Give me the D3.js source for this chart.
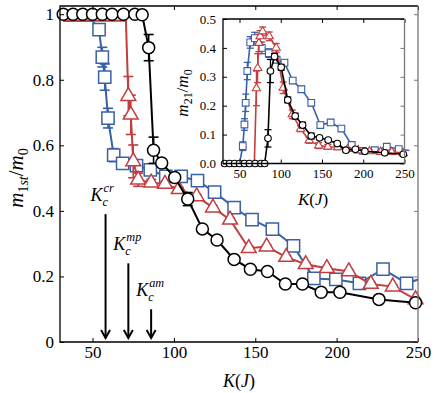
<!DOCTYPE html>
<html>
<head>
<meta charset="utf-8">
<script src="https://cdn.jsdelivr.net/npm/d3@7"></script>
<style>
body { margin: 0; background: #fff; }
svg text { font-family: "Liberation Serif", "DejaVu Serif", serif; fill: #000; }
</style>
</head>
<body>
<svg width="436" height="393"></svg>
<script>
// values (K in units of J)
var blueK   = [32, 38, 44, 50, 54, 56, 57.5, 59.5, 63, 68.5, 77, 85.5, 95, 104.5, 114.5, 125, 137, 148, 160.5, 173.5, 186, 199.5, 214, 228.5, 243, 256];
var blueM1  = [0.98, 0.98, 0.98, 0.98, 0.953, 0.869, 0.808, 0.683, 0.57, 0.545, 0.538, 0.525, 0.505, 0.505, 0.492, 0.457, 0.41, 0.373, 0.344, 0.293, 0.194, 0.191, 0.179, 0.222, 0.179, 0.2];
var blueE1  = [0, 0, 0, 0, 0.015, 0.03, 0.04, 0.03, 0.02, 0.01, 0.005, 0.005, 0.005, 0.005, 0.005, 0.01, 0.012, 0.008, 0.012, 0.015, 0.015, 0.01, 0.005, 0.008, 0.005, 0];
var blueM21 = [0, 0, 0, 0, 0.06, 0.135, 0.21, 0.32, 0.419, 0.434, 0.40, 0.382, 0.359, 0.349, 0.287, 0.257, 0.21, 0.133, 0.142, 0.121, 0.064, 0.044, 0.046, 0.058, 0.05, 0.045];
var blueE21 = [0, 0, 0, 0, 0.015, 0.02, 0.03, 0.03, 0.02, 0.02, 0.02, 0.015, 0.01, 0.01, 0.01, 0.01, 0.01, 0.01, 0.01, 0.008, 0.008, 0.005, 0.005, 0.005, 0.005, 0];

var redK   = [32, 38, 44, 50, 56, 62, 68, 70.5, 72, 73.5, 75, 78, 86, 94.5, 103, 114, 124, 134.5, 146, 157, 169, 181, 194, 207.5, 221, 234.5, 248.5];
var redM1  = [0.98, 0.98, 0.98, 0.98, 0.98, 0.98, 0.98, 0.98, 0.75, 0.693, 0.551, 0.495, 0.486, 0.482, 0.466, 0.444, 0.41, 0.373, 0.286, 0.291, 0.259, 0.237, 0.225, 0.215, 0.177, 0.169, 0.130];
var redE1  = [0, 0, 0, 0, 0, 0, 0, 0, 0.06, 0.06, 0.05, 0.02, 0.01, 0.005, 0.005, 0.005, 0.005, 0.005, 0.005, 0.005, 0.005, 0.005, 0.005, 0.005, 0.005, 0.005, 0];
var redM21 = [0, 0, 0, 0, 0, 0, 0, 0.26, 0.33, 0.417, 0.44, 0.457, 0.44, 0.40, 0.262, 0.17, 0.12, 0.08, 0.062, 0.058, 0.056, 0.05, 0.045, 0.042, 0.04, 0.04, 0.035];
var redE21 = [0, 0, 0, 0, 0, 0, 0, 0.06, 0.05, 0.03, 0.02, 0.015, 0.015, 0.015, 0.02, 0.015, 0.01, 0.01, 0.01, 0.008, 0.008, 0.005, 0.005, 0.005, 0.005, 0.005, 0];

var blackK   = [32, 38, 44, 50, 56, 62, 69, 76, 80.5, 84.5, 87.5, 92.5, 100.5, 108.5, 117.5, 126.5, 137, 147, 157.5, 168.5, 179, 190.5, 202, 226, 248.5];
var blackM1  = [1, 1, 1, 1, 1, 1, 1, 1, 0.998, 0.898, 0.585, 0.546, 0.502, 0.436, 0.345, 0.311, 0.252, 0.222, 0.215, 0.177, 0.177, 0.152, 0.152, 0.130, 0.120];
var blackE1  = [0, 0, 0, 0, 0, 0, 0, 0, 0, 0.04, 0.04, 0.01, 0.01, 0.02, 0.005, 0.005, 0, 0, 0, 0, 0, 0, 0, 0, 0];
var blackM21 = [0, 0, 0, 0, 0, 0, 0, 0, 0, 0.087, 0.32, 0.37, 0.333, 0.22, 0.164, 0.133, 0.095, 0.089, 0.081, 0.069, 0.046, 0.049, 0.042, 0.037, 0.032];
var blackE21 = [0, 0, 0, 0, 0, 0, 0, 0, 0, 0.03, 0.04, 0.01, 0.01, 0.01, 0.01, 0.01, 0.01, 0.005, 0.005, 0.005, 0.005, 0, 0, 0, 0];

var xTicks = [50, 100, 150, 200, 250];
var yTicks = [0, 0.2, 0.4, 0.6, 0.8, 1];
var insetYTicks = [0, 0.1, 0.2, 0.3, 0.4, 0.5];

// critical couplings marked by arrows
var arrowK = [58, 72, 86];
var arrowTop = [0.39, 0.24, 0.10];
var arrowSup = ["cr", "mp", "am"];

var blue = "#3a61a4", red = "#c33d3f";

var svg = d3.select("svg"),
    main = {left: 60, right: 418, top: 6, bottom: 342},
    ins = {left: 223, right: 404.5, top: 19, bottom: 163.5};

var x = d3.scaleLinear().domain([30, 250]).range([main.left, main.right]);
var y = d3.scaleLinear().domain([0, 1.025]).range([main.bottom, main.top]);
var xi = d3.scaleLinear().domain([30, 250]).range([ins.left, ins.right]);
var yi = d3.scaleLinear().domain([0, 0.5]).range([ins.bottom, ins.top]);

svg.append("defs").append("clipPath").attr("id", "clipMain").append("rect")
    .attr("x", main.left).attr("y", main.top)
    .attr("width", main.right - main.left).attr("height", main.bottom - main.top);

function frame(g, box, sx, sy, ticksX, ticksY, fs, padX, padY, fmtY) {
    g.append("g")
        .attr("transform", "translate(0," + box.bottom + ")")
        .call(d3.axisBottom(sx).tickValues(ticksX).tickSizeInner(-4).tickSizeOuter(0).tickPadding(padX))
        .call(function (a) { a.select(".domain").remove(); a.selectAll("text").attr("font-size", fs); });
    g.append("g")
        .attr("transform", "translate(" + box.left + ",0)")
        .call(d3.axisLeft(sy).tickValues(ticksY).tickSizeInner(-4).tickSizeOuter(0).tickPadding(padY).tickFormat(fmtY))
        .call(function (a) { a.select(".domain").remove(); a.selectAll("text").attr("font-size", fs); });
    g.append("g")
        .attr("transform", "translate(0," + box.top + ")")
        .call(d3.axisTop(sx).tickValues(ticksX).tickSizeInner(-4).tickSizeOuter(0).tickFormat(""))
        .call(function (a) { a.select(".domain").remove(); });
    g.append("g")
        .attr("transform", "translate(" + box.right + ",0)")
        .call(d3.axisRight(sy).tickValues(ticksY).tickSizeInner(-4).tickSizeOuter(0).tickFormat(""))
        .call(function (a) { a.select(".domain").remove(); a.selectAll("line").attr("stroke", "#777"); });
    g.append("path")
        .attr("d", "M" + box.right + "," + box.top + "H" + box.left + "V" + box.bottom + "H" + box.right)
        .attr("fill", "none").attr("stroke", "#000").attr("stroke-width", 1.3);
    g.append("line")
        .attr("x1", box.right).attr("x2", box.right).attr("y1", box.top).attr("y2", box.bottom)
        .attr("stroke", "#777").attr("stroke-width", 1.3);
}

function series(g, sx, sy, K, v, e, o) {
    var pts = K.map(function (k, i) { return {k: k, v: v[i], e: e[i]}; });
    var line = d3.line().x(function (d) { return sx(d.k); }).y(function (d) { return sy(d.v); });
    g.append("path").datum(pts)
        .attr("d", line).attr("fill", "none").attr("stroke", o.color)
        .attr("stroke-width", o.lw).attr("clip-path", o.clip || null);
    var eb = g.append("g").attr("stroke", o.color).attr("stroke-width", o.lw * 0.8);
    pts.filter(function (d) { return d.e > 0 && d.k <= 250; }).forEach(function (d) {
        var cx = sx(d.k), y0 = sy(d.v - d.e), y1 = sy(d.v + d.e);
        eb.append("line").attr("x1", cx).attr("x2", cx).attr("y1", y0).attr("y2", y1);
        eb.append("line").attr("x1", cx - o.cap).attr("x2", cx + o.cap).attr("y1", y0).attr("y2", y0);
        eb.append("line").attr("x1", cx - o.cap).attr("x2", cx + o.cap).attr("y1", y1).attr("y2", y1);
    });
    var shown = pts.filter(function (d) { return d.k <= 250 && !(o.hide && o.hide(d.v)); });
    if (o.shape === "circle") {
        g.selectAll(null).data(shown).enter().append("circle")
            .attr("cx", function (d) { return sx(d.k); })
            .attr("cy", function (d) { return sy(d.v); })
            .attr("r", o.size)
            .attr("fill", "#fff").attr("stroke", o.color).attr("stroke-width", o.mw);
    } else {
        var sym = d3.symbol().type(o.shape === "square" ? d3.symbolSquare : d3.symbolTriangle).size(o.size);
        g.selectAll(null).data(shown).enter().append("path")
            .attr("transform", function (d) { return "translate(" + sx(d.k) + "," + sy(d.v) + ")"; })
            .attr("d", sym)
            .attr("fill", "#fff").attr("stroke", o.color).attr("stroke-width", o.mw);
    }
}

// K_c^sup label: separate texts so sub and sup stack after the K
function kLabel(g, x0, y0, fs, sup) {
    var k = g.append("text").attr("x", x0).attr("y", y0).attr("font-size", fs)
        .attr("font-style", "italic").text("K");
    var w = k.node().getComputedTextLength();
    g.append("text").attr("x", x0 + w).attr("y", y0 + 5).attr("font-size", fs * 0.68)
        .attr("font-style", "italic").text("c");
    g.append("text").attr("x", x0 + w + 1).attr("y", y0 - 9).attr("font-size", fs * 0.68)
        .attr("font-style", "italic").text(sup);
}

// main panel
var gm = svg.append("g");
series(gm, x, y, blueK, blueM1, blueE1, {color: blue, lw: 2, mw: 1.5, cap: 5, shape: "square", size: 150, clip: "url(#clipMain)", hide: function (v) { return v >= 0.975; }});
series(gm, x, y, redK, redM1, redE1, {color: red, lw: 2, mw: 1.5, cap: 5, shape: "triangle", size: 95, clip: "url(#clipMain)", hide: function (v) { return v >= 0.975; }});
series(gm, x, y, blackK, blackM1, blackE1, {color: "#000", lw: 2, mw: 1.5, cap: 5, shape: "circle", size: 6, clip: "url(#clipMain)"});

frame(gm, main, x, y, xTicks, yTicks, 17, 4, 6, function (d) { return (d === 0 || d === 1) ? d : d.toFixed(1); });

// arrows with critical-coupling labels
arrowK.forEach(function (k, i) {
    var ax = x(k), top = y(arrowTop[i]), tip = y(0.012);
    gm.append("line").attr("x1", ax).attr("x2", ax).attr("y1", top).attr("y2", tip)
        .attr("stroke", "#000").attr("stroke-width", 2);
    gm.append("path").attr("d", "M" + (ax - 4.5) + "," + (tip - 8) + "L" + ax + "," + tip + "L" + (ax + 4.5) + "," + (tip - 8))
        .attr("fill", "none").attr("stroke", "#000").attr("stroke-width", 2);
    kLabel(gm, ax - 15, top - 13, 18, arrowSup[i]);
});

// axis titles of main panel
var tx = gm.append("text").attr("x", 239).attr("y", 387).attr("text-anchor", "middle").attr("font-size", 18);
tx.append("tspan").attr("font-style", "italic").text("K");
tx.append("tspan").text("(");
tx.append("tspan").attr("font-style", "italic").text("J");
tx.append("tspan").text(")");

var ty = gm.append("text").attr("transform", "translate(23,178) rotate(-90)").attr("text-anchor", "middle").attr("font-size", 21);
ty.append("tspan").attr("font-style", "italic").text("m");
ty.append("tspan").attr("font-size", 14).attr("dy", 5).text("1");
ty.append("tspan").attr("font-size", 14).attr("font-style", "italic").text("st");
ty.append("tspan").attr("dy", -5).text("/");
ty.append("tspan").attr("font-style", "italic").text("m");
ty.append("tspan").attr("font-size", 14).attr("dy", 5).text("0");

// inset panel
var gi = svg.append("g");
gi.append("rect").attr("x", ins.left).attr("y", ins.top)
    .attr("width", ins.right - ins.left).attr("height", ins.bottom - ins.top).attr("fill", "#fff");
series(gi, xi, yi, blueK, blueM21, blueE21, {color: blue, lw: 1.6, mw: 1.1, cap: 3.5, shape: "square", size: 45, hide: function (v) { return v === 0; }});
series(gi, xi, yi, redK, redM21, redE21, {color: red, lw: 1.6, mw: 1.1, cap: 3.5, shape: "triangle", size: 30, hide: function (v) { return v === 0; }});
series(gi, xi, yi, blackK, blackM21, blackE21, {color: "#000", lw: 1.6, mw: 1.1, cap: 3.5, shape: "circle", size: 3.3});

frame(gi, ins, xi, yi, xTicks, insetYTicks, 13, 5, 7, d3.format(".1f"));

var ix = gi.append("text").attr("x", 313).attr("y", 205).attr("text-anchor", "middle").attr("font-size", 17);
ix.append("tspan").attr("font-style", "italic").text("K");
ix.append("tspan").text("(");
ix.append("tspan").attr("font-style", "italic").text("J");
ix.append("tspan").text(")");

var iy = gi.append("text").attr("transform", "translate(188,93) rotate(-90)").attr("text-anchor", "middle").attr("font-size", 17);
iy.append("tspan").attr("font-style", "italic").text("m");
iy.append("tspan").attr("font-size", 12).attr("dy", 4).text("21");
iy.append("tspan").attr("dy", -4).text("/");
iy.append("tspan").attr("font-style", "italic").text("m");
iy.append("tspan").attr("font-size", 12).attr("dy", 4).text("0");
</script>
</body>
</html>
